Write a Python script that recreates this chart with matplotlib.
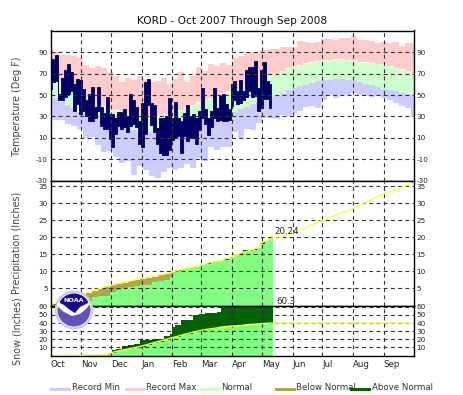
import numpy as np
import matplotlib
matplotlib.use('Agg')
import matplotlib.pyplot as plt
from matplotlib.patches import Circle, Polygon, Rectangle

W, H = 463, 395

month_days = [0, 31, 61, 92, 123, 152, 183, 213, 244, 274, 305, 336]
month_names = ['Oct', 'Nov', 'Dec', 'Jan', 'Feb', 'Mar', 'Apr', 'May', 'Jun', 'Jul', 'Aug', 'Sep']

# Temperature
record_days = list(range(0, 367, 6))
record_max = [93, 90, 88, 88, 87, 85, 78, 75, 77, 75, 72, 68, 62, 66, 64, 68, 65, 62, 63, 66, 60,
              65, 72, 62, 68, 76, 73, 79, 77, 80, 78, 85, 87, 90, 90, 91, 92, 93, 93, 95, 95, 95,
              101, 100, 99, 100, 103, 103, 102, 104, 104, 105, 102, 102, 101, 99, 100, 99, 100, 96, 99, 99]
record_min = [28, 27, 27, 23, 21, 18, 10, 11, 3, -3, -2, -8, -14, -12, -25, -16, -20, -26, -28, -22, -18,
              -20, -18, -15, -18, -9, -12, 1, -1, 1, 1, 15, 10, 18, 17, 24, 29, 29, 28, 31, 30, 32,
              35, 39, 40, 38, 45, 50, 47, 50, 50, 52, 50, 49, 48, 49, 47, 45, 43, 40, 38, 30]
normal_days = [0, 31, 61, 92, 123, 152, 183, 213, 244, 274, 294, 305, 336, 366]
normal_high = [70, 50, 37, 30, 33, 44, 55, 64, 77, 83, 84, 82, 79, 71]
normal_low = [50, 34, 23, 15, 16, 27, 33, 45, 56, 64, 65, 64, 56, 50]

obs_days = list(range(0, 223, 3))
obs_high = [79, 84, 88, 51, 66, 74, 79, 72, 60, 65, 64, 56, 45, 51, 58, 39, 58, 39, 33, 48, 32, 32, 29, 34, 34,
            37, 30, 51, 45, 39, 26, 43, 62, 65, 43, 41, 19, 29, 29, 30, 47, 29, 44, 29, 26, 33, 41, 30, 32, 29,
            35, 57, 37, 29, 35, 57, 38, 49, 51, 42, 37, 60, 63, 54, 64, 54, 74, 76, 76, 82, 57, 74, 81, 63, 60]
obs_low = [56, 62, 63, 45, 45, 48, 51, 54, 35, 42, 32, 35, 30, 26, 26, 29, 35, 21, 18, 18, 9, 1, 14, 21, 18,
           20, 15, 21, 23, 20, 4, 1, 14, 41, 22, 15, 4, -4, -6, -6, -1, 8, 10, 12, -4, 12, 7, 10, 10, 4,
           17, 29, 23, 13, 20, 29, 26, 27, 26, 26, 27, 40, 45, 42, 43, 45, 48, 54, 48, 49, 35, 38, 46, 46, 38]

# Precipitation
precip_days = [0, 6, 12, 18, 24, 30, 36, 42, 48, 54, 60, 66, 72, 78, 84, 90, 96, 102, 108, 114, 120,
               123, 126, 132, 138, 144, 150, 156, 162, 168, 174, 180, 186, 190, 194, 198, 204, 208,
               212, 216, 220, 224]
precip_obs = [.3, .4, .6, .8, 1.0, 1.2, 1.4, 2.5, 2.7, 2.8, 3.9, 4.5, 5.2, 5.4, 5.6, 6, 6.1, 7, 7.2, 7.5, 8.3,
              9.5, 10.3, 10.7, 11, 11.3, 11.9, 12.6, 12.8, 13, 13.6, 14.2, 14.9, 15.3, 16.2, 16.4, 16.6, 16.8,
              18.5, 18.8, 20, 20.24]
precip_normal = [.2, .8, 1.4, 2, 2.6, 3.1, 3.8, 4.3, 4.8, 5.4, 5.9, 6.3, 6.7, 7.1, 7.5, 7.9, 8.2, 8.5, 8.9, 9.2, 9.6,
                 9.8, 10.1, 10.6, 11, 11.4, 11.8, 12.3, 12.7, 13.1, 13.5, 14.1, 14.9, 15.2, 15.6, 15.9, 16.4, 16.9,
                 18.2, 18.9, 19.5, 19.8]
precip_normal_days_rest = [244, 274, 305, 336, 366]
precip_normal_rest = [21.2, 25, 28.5, 32.8, 36]

# Snow
snow_days = [0, 30, 45, 50, 57, 60, 62, 66, 72, 78, 84, 90, 96, 102, 108, 114, 120, 123, 126, 132,
             138, 144, 150, 156, 162, 168, 172, 180, 186, 192, 198, 204, 210, 216, 224]
snow_obs = [0, 0, 0, .5, 1, 2, 7, 8, 12, 13, 14, 19, 19.5, 20, 20, 24, 26, 35, 38, 44,
            44, 50, 51, 52, 52.5, 53, 60, 60, 60, 60, 60, 60, 60, 60, 60.3]
snow_normal = [0, .2, .5, .8, 1.5, 3, 3.5, 5, 6.5, 8, 9.5, 11, 13, 15, 17, 19, 21, 22, 23, 25,
               27, 29, 30.5, 32, 33, 34, 35, 36, 36.5, 37, 38, 38.5, 39, 39.5, 40]
snow_normal_days_rest = [244, 366]
snow_normal_rest = [40, 40]

temp_ticks = [90, 70, 50, 30, 10, -10, -30]
precip_ticks = [35, 30, 25, 20, 15, 10, 5]
snow_ticks = [60, 50, 40, 30, 20, 10]

legend_labels = ['Record Min', 'Record Max', 'Normal', 'Below Normal', 'Above Normal']

c_min, c_max, c_norm = '#ccccff', '#ffcccc', '#ccffcc'
c_obs = '#000066'
c_light, c_below, c_above, c_line = '#80ff80', '#aea84a', '#006400', '#ffff33'
legend_colors = [c_min, c_max, c_norm, c_below, c_above]

L, R = 50.5, 413.5


def make_axes(top, bottom):
    return fig.add_axes([L / W, 1 - bottom / H, (R - L) / W, (bottom - top) / H])


def style(ax, ylim, ticks):
    ax.set_xlim(0, 366)
    ax.set_ylim(*ylim)
    ax.set_xticks(month_days[1:])
    ax.set_yticks(ticks)
    ax.set_yticklabels([str(t) for t in ticks], fontsize=5.2, color='#222222')
    ax.tick_params(axis='both', length=0, pad=2, labelright=True, labelleft=True, labelbottom=False)
    ax.grid(True, color='#333333', lw=0.8, ls=(0, (3.5, 3)), zorder=5)
    ax.set_axisbelow(False)
    for s in ax.spines.values():
        s.set_linewidth(1.0)
        s.set_zorder(6)


fig = plt.figure(figsize=(W / 100, H / 100), dpi=100)

# temperature panel
ax1 = make_axes(30.5, 180.5)
ax1.fill_between(record_days, np.interp(record_days, normal_days, normal_high), record_max,
                 step='mid', color=c_max, lw=0)
ax1.fill_between(normal_days, normal_low, normal_high, color=c_norm, lw=0)
ax1.fill_between(record_days, record_min, np.interp(record_days, normal_days, normal_low),
                 step='mid', color=c_min, lw=0)
ax1.fill_between(obs_days, obs_low, obs_high, step='mid', color=c_obs, lw=0.6)
style(ax1, (-30, 110.6), temp_ticks)
ax1.set_title('KORD - Oct 2007 Through Sep 2008', fontsize=7.6, pad=5, color='#111111')

# precipitation panel
ax2 = make_axes(180.5, 305.5)
ax2.fill_between(precip_days, 0, precip_obs, step='post', color=c_above, lw=0)
ax2.fill_between(precip_days, 0, precip_normal, step='post', color=c_below, lw=0)
ax2.fill_between(precip_days, 0, np.minimum(precip_obs, precip_normal), step='post', color=c_light, lw=0)
ax2.plot(precip_days + precip_normal_days_rest, precip_normal + precip_normal_rest, color=c_line, lw=1.0, zorder=4)
style(ax2, (0, 36.7), precip_ticks)
ax2.text(226, 21.1, '20.24', fontsize=6.2, color='#222222', zorder=7)

# snow panel
ax3 = make_axes(305.5, 355.5)
ax3.fill_between(snow_days, 0, snow_obs, step='post', color=c_above, lw=0)
ax3.fill_between(snow_days, 0, snow_normal, step='post', color=c_below, lw=0)
ax3.fill_between(snow_days, 0, np.minimum(snow_obs, snow_normal), step='post', color=c_light, lw=0)
ax3.plot(snow_days + snow_normal_days_rest, snow_normal + snow_normal_rest, color=c_line, lw=1.0, zorder=4)
style(ax3, (0, 61.6), snow_ticks)
ax3.text(228, 63.5, '60.3', fontsize=6.2, color='#222222', clip_on=False, zorder=7)
ax3.set_xticklabels(month_names[1:])
ax3.tick_params(axis='x', labelbottom=False)
for d, name in zip(month_days, month_names):
    ax3.text(d, -5, name, fontsize=6.2, color='#222222', ha='left', va='top', clip_on=False)

# page overlay in pixel coordinates: axis titles, legend, logo
page = fig.add_axes([0, 0, 1, 1], zorder=10)
page.set_xlim(0, W)
page.set_ylim(H, 0)
page.axis('off')
page.patch.set_alpha(0)

page.text(17, 106, 'Temperature (Deg F)', rotation=90, fontsize=6.9, color='#444444', ha='center', va='center')
page.text(17, 243, 'Precipitation (Inches)', rotation=90, fontsize=6.9, color='#444444', ha='center', va='center')
page.text(17, 331, 'Snow (Inches)', rotation=90, fontsize=6.9, color='#444444', ha='center', va='center')

for x, label, col in zip([50, 125, 200, 275, 350], legend_labels, legend_colors):
    page.add_patch(Rectangle((x, 388), 21, 3, color=col, lw=0))
    page.text(x + 21.5, 387.5, label, fontsize=6.2, color='#333333', ha='left', va='center')

cx, cy = 74, 310
page.add_patch(Circle((cx, cy), 19.3, fc='#c6c6e6', ec='none'))
page.add_patch(Circle((cx, cy), 17.3, fc='white', ec='none'))
clip = Circle((cx, cy), 16.5, transform=page.transData)
navy = Polygon([(cx - 14, cy - 17), (cx + 14, cy - 17), (cx + 14, cy - 7), (cx + 6, cy - 3),
                (cx + 1, cy + 3), (cx - 4, cy), (cx - 10, cy - 5), (cx - 14, cy - 7)],
               fc='#1c0a8c', ec='none')
page.add_patch(navy)
navy.set_clip_path(clip)
purple = Polygon([(cx - 17, cy - 4), (cx - 10, cy + 2), (cx - 2, cy + 6), (cx + 6, cy + 4), (cx + 12, cy - 1),
                  (cx + 17, cy - 7), (cx + 17, cy + 18), (cx - 17, cy + 18)],
                 fc='#6650b8', ec='none')
page.add_patch(purple)
purple.set_clip_path(clip)
page.text(cx, cy - 9, 'NOAA', fontsize=4.6, fontweight='bold', color='white', ha='center', va='center')

fig.savefig('out.png', dpi=100)
